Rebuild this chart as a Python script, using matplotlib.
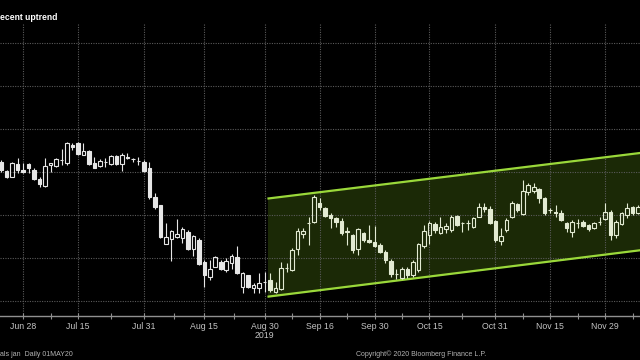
import numpy as np
import pandas as pd
import matplotlib
matplotlib.use("Agg")
import matplotlib.pyplot as plt
from matplotlib.ticker import FixedLocator

# trading days (ICE Canada calendar)
holidays = ["2019-07-01", "2019-09-02", "2019-10-14", "2019-11-11"]
dates = pd.bdate_range("2019-06-24", "2019-12-09", freq="C", holidays=holidays)

opens = [456.2, 455.1, 454.4, 455.9, 455.2, 455.9, 455.2, 454.2, 453.4, 455.8,
         455.7, 456.4, 456.0, 458.1, 458.4, 457.0, 457.4, 456.0, 455.7, 456.2,
         455.9, 456.9, 455.9, 456.7, 456.5, 456.3, 456.2, 455.5, 452.1, 451.2,
         446.6, 447.2, 447.4, 447.3, 448.0, 446.0, 447.1, 444.5, 442.8, 444.0,
         444.5, 443.6, 444.4, 445.1, 441.6, 443.0, 441.5, 441.5, 442.2, 442.4,
         441.0, 441.4, 443.8, 443.6, 446.0, 447.8, 449.1, 449.2, 451.4, 450.8,
         450.0, 449.7, 449.3, 448.1, 447.7, 446.0, 447.9, 447.1, 446.9, 446.5,
         445.7, 444.7, 443.1, 442.7, 443.7, 443.0, 443.6, 446.4, 447.7, 449.0,
         447.9, 448.4, 448.3, 449.9, 449.1, 449.1, 448.6, 449.8, 450.9, 450.7,
         449.3, 447.0, 448.3, 449.8, 451.3, 450.1, 452.7, 452.8, 453.0, 452.0,
         450.6, 450.3, 450.2, 449.1, 448.0, 449.1, 449.2, 448.8, 448.5, 449.2,
         449.5, 450.3, 447.7, 449.0, 450.0, 450.9, 450.2]
highs = [456.4, 455.2, 456.2, 456.6, 456.0, 456.0, 455.5, 454.4, 456.6, 456.0,
         456.6, 457.7, 458.5, 458.4, 458.5, 458.4, 457.6, 456.7, 456.5, 456.6,
         457.0, 457.0, 457.2, 457.2, 456.6, 456.7, 456.4, 456.2, 452.6, 451.2,
         449.1, 448.3, 449.5, 448.6, 448.3, 447.7, 447.3, 444.8, 444.8, 445.2,
         444.8, 445.0, 445.5, 446.4, 443.4, 443.0, 442.1, 443.3, 443.4, 443.3,
         442.2, 444.5, 444.4, 446.2, 448.5, 448.5, 449.8, 452.3, 452.0, 450.9,
         450.2, 449.8, 449.7, 448.6, 447.8, 448.5, 448.0, 448.8, 448.7, 446.7,
         445.9, 444.9, 443.7, 444.0, 444.0, 444.8, 446.7, 448.8, 449.3, 449.2,
         449.8, 449.1, 450.0, 450.0, 449.2, 449.4, 449.8, 451.4, 451.4, 451.0,
         449.4, 448.5, 449.7, 451.6, 451.4, 454.1, 453.7, 453.7, 453.1, 452.1,
         450.8, 451.2, 450.6, 449.2, 449.4, 449.5, 449.4, 449.0, 449.2, 449.8,
         451.4, 450.6, 449.4, 450.3, 451.4, 451.0, 451.2]
lows = [455.0, 454.3, 454.4, 454.9, 454.9, 454.9, 454.1, 453.3, 453.3, 455.0,
        455.6, 455.8, 455.8, 457.6, 457.0, 457.0, 455.8, 455.5, 455.6, 455.6,
        455.8, 455.8, 455.1, 456.5, 456.2, 455.8, 455.0, 451.9, 450.7, 447.3,
        446.6, 444.7, 447.3, 446.7, 445.9, 445.2, 444.2, 441.6, 442.4, 444.0,
        443.6, 443.4, 443.7, 443.1, 440.9, 441.5, 440.9, 440.9, 441.0, 441.0,
        440.9, 441.3, 443.4, 443.5, 445.3, 447.3, 446.5, 449.1, 450.6, 449.8,
        448.5, 448.6, 447.7, 446.5, 445.6, 445.3, 446.9, 446.7, 446.3, 445.6,
        444.4, 442.8, 442.6, 442.6, 442.7, 442.8, 443.4, 446.2, 446.6, 447.9,
        447.8, 447.9, 448.0, 448.7, 448.0, 448.3, 448.5, 449.8, 450.3, 449.0,
        446.9, 446.5, 448.0, 449.7, 450.3, 450.0, 452.3, 452.6, 451.4, 450.0,
        450.2, 449.8, 449.3, 448.0, 447.4, 448.5, 448.6, 448.1, 448.4, 448.8,
        449.4, 447.1, 447.3, 448.8, 449.7, 450.0, 450.1]
closes = [455.2, 454.4, 456.0, 455.2, 455.0, 455.5, 454.2, 453.6, 455.7, 456.0,
          456.5, 456.4, 458.4, 457.9, 457.1, 457.4, 455.9, 455.5, 456.3, 456.2,
          456.9, 455.9, 457.0, 456.6, 456.5, 456.3, 455.1, 452.1, 450.9, 447.4,
          447.4, 448.1, 447.8, 448.4, 446.0, 447.6, 444.3, 443.0, 443.7, 445.1,
          443.7, 444.7, 445.2, 443.3, 443.3, 441.6, 441.9, 442.1, 442.2, 441.3,
          441.5, 443.8, 443.8, 445.9, 448.1, 448.1, 449.1, 452.1, 450.9, 449.9,
          449.7, 449.2, 447.9, 448.0, 445.9, 448.4, 447.1, 446.9, 446.4, 445.7,
          444.8, 443.1, 443.1, 443.7, 443.0, 444.5, 446.6, 448.1, 449.1, 448.3,
          448.6, 448.7, 449.8, 448.8, 449.1, 449.1, 449.7, 450.9, 450.7, 449.1,
          447.1, 447.6, 449.4, 451.4, 450.6, 452.8, 453.5, 453.3, 452.0, 450.2,
          450.6, 450.2, 449.4, 448.5, 449.2, 449.1, 448.7, 448.4, 449.1, 449.2,
          450.3, 447.7, 449.2, 450.2, 450.8, 450.2, 450.9]

# trend channel (x in trading-day index)
chan_x = [48.5, 116.4]
chan_upper = [451.9, 457.2]
chan_lower = [440.5, 445.9]

tick_dates = ["2019-06-28", "2019-07-15", "2019-07-31", "2019-08-15", "2019-08-30",
              "2019-09-16", "2019-09-30", "2019-10-15", "2019-10-31", "2019-11-15",
              "2019-11-29"]
tick_labels = ["Jun 28", "Jul 15", "Jul 31", "Aug 15", "Aug 30\n2019", "Sep 16",
               "Sep 30", "Oct 15", "Oct 31", "Nov 15", "Nov 29"]

BG = "black"
GRID = "#5a5a5a"
CANDLE = "#e6e6e6"
CANDLE_CH = "#e2ead2"
CH_FILL = "#1b2906"
CH_LINE = "#9ad83a"
TXT = "#c4c4c4"
FONT = ["Liberation Sans", "DejaVu Sans"]

fig = plt.figure(figsize=(6.4, 3.6), dpi=100, facecolor=BG)
ax = fig.add_axes([0, (360 - 316) / 360, 1, (316 - 23) / 360], facecolor=BG)

x = np.arange(len(dates))
o = np.array(opens); h = np.array(highs); l = np.array(lows); c = np.array(closes)
top = np.maximum(o, c)
bot = np.minimum(o, c)
up = c > o
col = np.where(x > chan_x[0], CANDLE_CH, CANDLE)

# channel
ax.fill_between(chan_x, chan_lower, chan_upper, color=CH_FILL, lw=0, zorder=0.5)
ax.plot(chan_x, chan_upper, color=CH_LINE, lw=1.6, zorder=2.5, solid_capstyle="butt")
ax.plot(chan_x, chan_lower, color=CH_LINE, lw=1.6, zorder=2.5, solid_capstyle="butt")

# candles
w = 0.64
ax.vlines(x, top, h, colors=col, lw=0.8, zorder=3)
ax.vlines(x, l, bot, colors=col, lw=0.8, zorder=3)
for i in range(len(x)):
    fc = "none" if up[i] else col[i]
    ax.bar(x[i], top[i] - bot[i], w, bottom=bot[i], facecolor=fc,
           edgecolor=col[i], lw=0.8, zorder=3)

ax.set_xlim(-0.2, 116.35)
ax.set_ylim(438.26, 472.3)

pos = [dates.get_loc(pd.Timestamp(d)) for d in tick_dates]
ax.xaxis.set_major_locator(FixedLocator(pos))
ax.set_xticklabels(tick_labels)
mids = [(a + b) / 2 for a, b in zip(pos[:-1], pos[1:])]
mids.append(pos[-1] + (pos[-1] - pos[-2]) / 2)
ax.xaxis.set_minor_locator(FixedLocator(mids))
ax.set_yticks([440, 445, 450, 455, 460, 465, 470])
ax.tick_params(axis="y", left=False, labelleft=False)
ax.tick_params(axis="x", which="both", colors="#909090", direction="inout",
               length=4, width=0.8, labelcolor=TXT, labelsize=6.3, pad=2)
for lab in ax.get_xticklabels():
    lab.set_family(FONT)
    lab.set_linespacing(1.05)

ax.grid(True, which="major", color=GRID, lw=0.8, ls=(0, (1, 1.2)), zorder=1)
for s in ["top", "left", "right"]:
    ax.spines[s].set_visible(False)
ax.spines["bottom"].set_color("#909090")
ax.spines["bottom"].set_linewidth(1.0)

fig.text(0.0, 1 - 18 / 360, "ecent uptrend", color="white", fontsize=6.2,
         fontweight="bold", va="center", ha="left", family=FONT)
fig.text(0.0, 1 - 354 / 360, "als jan  Daily 01MAY20", color="#b4b4b4", fontsize=5,
         va="center", ha="left", family=FONT)
fig.text(356 / 640, 1 - 354 / 360, "Copyright\u00a9 2020 Bloomberg Finance L.P.",
         color="#b4b4b4", fontsize=5, va="center", ha="left", family=FONT)

fig.savefig("out.png", dpi=100, facecolor=BG)
